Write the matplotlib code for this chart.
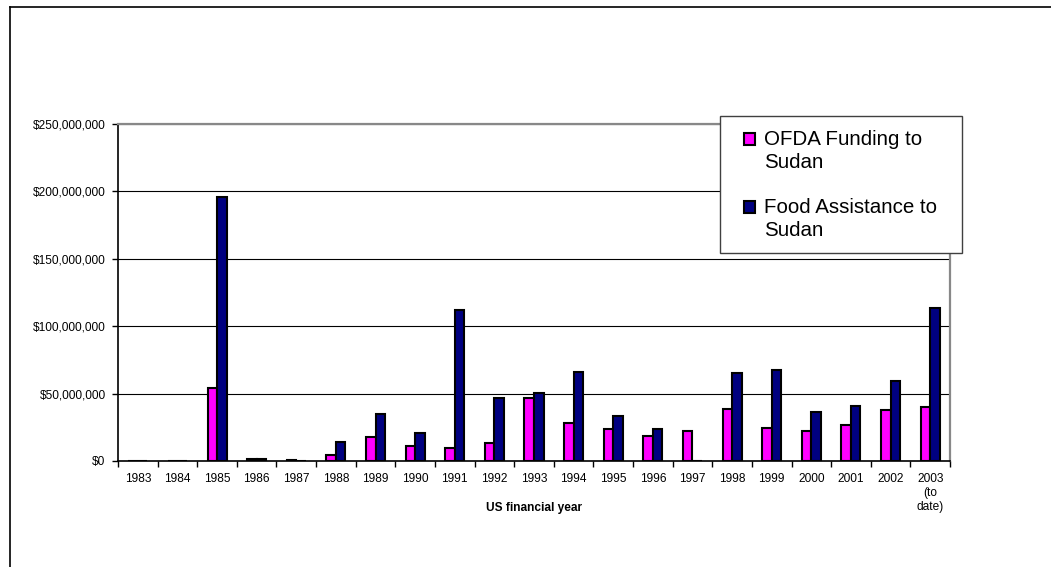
import matplotlib.pyplot as plt
import numpy as np
from matplotlib.lines import Line2D
from matplotlib.patches import Rectangle
from matplotlib.legend_handler import HandlerPatch
from matplotlib.ticker import FuncFormatter, FixedLocator

plt.rcParams['font.family'] = ['Liberation Sans', 'DejaVu Sans']

years = ['1983', '1984', '1985', '1986', '1987', '1988', '1989', '1990', '1991',
         '1992', '1993', '1994', '1995', '1996', '1997', '1998', '1999', '2000',
         '2001', '2002', '2003\n(to\ndate)']
# millions of US$
ofda = [0, 0, 54.2, 1.2, 0.6, 4.5, 18.0, 11.0, 10.0, 13.0, 47.0, 28.4, 23.7,
        18.3, 22.3, 38.6, 24.3, 22.0, 26.7, 38.0, 39.8]
food = [0, 0, 195.8, 1.6, 0, 14.3, 34.6, 21.0, 112.0, 46.5, 50.7, 66.3, 33.6,
        23.5, 0, 65.5, 67.5, 36.3, 41.0, 59.6, 113.7]
labels = ['OFDA Funding to\nSudan', 'Food Assistance to\nSudan']

fig = plt.figure(figsize=(10.51, 5.67), dpi=100)
ax = fig.add_axes([118/1051, 1-461/567, 832/1051, 337/567])

x = np.arange(len(years))
w = 0.24
ofda_v = np.array(ofda) * 1e6
food_v = np.array(food) * 1e6
b1 = ax.bar(x - w, ofda_v, w, align='edge', color='#FF00FF', edgecolor='black',
            linewidth=1.5)
b2 = ax.bar(x, food_v, w, align='edge', color='#000080', edgecolor='black',
            linewidth=1.5)

ax.set_xlim(-0.5, len(years) - 0.5)
ax.set_ylim(0, 250e6)
ax.set_yticks(np.arange(0, 250e6 + 1, 50e6))
ax.yaxis.set_major_formatter(FuncFormatter(lambda v, p: '${:,.0f}'.format(v)))
ax.yaxis.grid(True, color='black', linewidth=0.8)
ax.set_axisbelow(True)

ax.xaxis.set_major_locator(FixedLocator(np.arange(-0.5, len(years), 1)))
ax.xaxis.set_major_formatter(FuncFormatter(lambda v, p: ''))
ax.xaxis.set_minor_locator(FixedLocator(x))
ax.set_xticklabels(years, minor=True)
ax.tick_params(axis='x', which='minor', length=0, pad=9, labelsize=8.6)
ax.tick_params(axis='x', which='major', length=4, width=1, direction='out')
ax.tick_params(axis='y', length=4, width=1, pad=5, labelsize=8.6)

for s in ['left', 'bottom']:
    ax.spines[s].set_color('black')
    ax.spines[s].set_linewidth(1.2)
for s in ['top', 'right']:
    ax.spines[s].set_color('#888888')
    ax.spines[s].set_linewidth(1.6)

fig.text(534/1051, 1-508/567, 'US financial year', ha='center', va='center',
         fontsize=8.6, fontweight='bold')


# legend marker sits on the first line of the two-line label
def top_patch(legend, orig_handle, xdescent, ydescent, width, height, fontsize):
    return Rectangle((-xdescent, -ydescent + 0.6 * fontsize), width, height)


# legend box drawn separately so its padding can match
fig.add_artist(Rectangle((720/1051, 1-253/567), 242/1051, 137/567,
                         transform=fig.transFigure, facecolor='white',
                         edgecolor='#404040', linewidth=1.0, zorder=4))
leg = fig.legend([b1.patches[0], b2.patches[0]], labels,
                 loc='upper left', bbox_to_anchor=(744/1051, 1-130/567),
                 fontsize=14.8, frameon=False, borderpad=0,
                 handlelength=0.55, handleheight=0.55, handletextpad=0.42,
                 labelspacing=1.3, borderaxespad=0,
                 handler_map={Rectangle: HandlerPatch(patch_func=top_patch)})
leg.set_zorder(5)
for t in leg.get_texts():
    t.set_linespacing(1.25)

fig.add_artist(Line2D([10/1051, 10/1051], [0, 1-7/567], color='black', linewidth=1.2))
fig.add_artist(Line2D([10/1051, 1], [1-7/567, 1-7/567], color='black', linewidth=1.2))

fig.savefig('out.png', dpi=100)
